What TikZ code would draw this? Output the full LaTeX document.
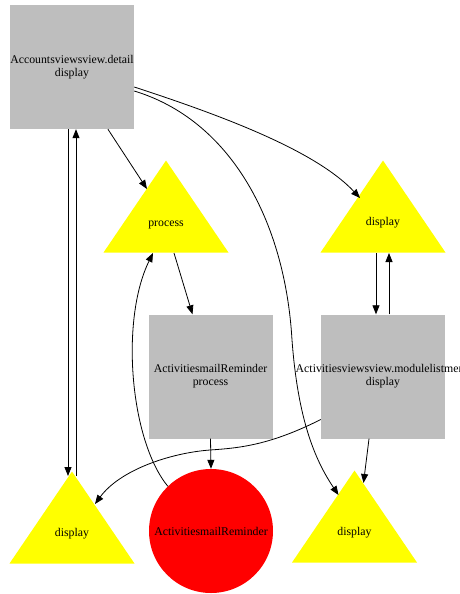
\documentclass[tikz,border=0pt]{standalone}
\usepackage{fontspec}
\setmainfont{Liberation Serif}
\usetikzlibrary{shapes.geometric,arrows.meta,calc}
\definecolor{boxgray}{RGB}{190,190,190}
\definecolor{triyellow}{RGB}{255,255,0}
\definecolor{dotred}{RGB}{255,0,0}
\newcommand{\trilabel}[1]{\raisebox{2.5pt}[0pt][0pt]{#1}}
\begin{document}
\begin{tikzpicture}[x=1pt,y=-1pt,
  every node/.style={font=\fontsize{11.8}{13}\selectfont, text=black},
  box/.style={rectangle, fill=boxgray, minimum width=124pt, minimum height=124pt,
    inner sep=0pt, align=center},
  tri/.style={isosceles triangle, isosceles triangle stretches, shape border rotate=90,
    minimum width=125pt, minimum height=92pt, inner sep=0pt, fill=triyellow, anchor=apex},
  dot/.style={circle, fill=dotred, minimum size=124pt, inner sep=0pt},
  link/.style={line width=0.8pt, -{Triangle[length=9pt,width=7pt]}}
]
\useasboundingbox (0,0) rectangle (460,594);

% nodes
\node[box] (A) at (72,67) {Accountsviewsview.detail\\display};
\node[tri] (P) at (166,160) {\trilabel{process}};
\node[tri] (D1) at (383,160) {\trilabel{display}};
\node[box] (B) at (210.5,376.5) {ActivitiesmailReminder\\process};
\node[box] (C) at (383,376.5) {\makebox[0pt]{Activitiesviewsview.modulelistmenu}\\display};
\node[tri] (D2) at (72,471) {\trilabel{display}};
\node[dot] (R) at (211,531) {ActivitiesmailReminder};
\node[tri] (D3) at (354.5,470) {\trilabel{display}};

% connectors
\draw[link] (A.-60) -- ($(P.apex)+(-19,29)$);
\draw[link] ($(A.east)+(0,20)$) .. controls (220,115) and (315,150) .. ($(D1.apex)+(-23,38)$);
\draw[link] ($(A.east)+(0,24)$) .. controls (230,120) and (285,220) .. (292,340)
  .. controls (298,420) and (315,460) .. ($(D3.apex)+(-16,25)$);
\draw[link] ($(A.south)+(-4,0)$) -- ($(D2.apex)+(-4,5)$);
\draw[link] ($(D2.apex)+(4,5)$) -- ($(A.south)+(4,0)$);
\draw[link] ($(P.apex)+(8,93)$) -- ($(B.north)+(-18,0)$);
\draw[link] (R.134) .. controls (130,440) and (120,320) .. ($(P.apex)+(-13,93)$);
\draw[link] ($(D1.apex)+(-7,93)$) -- ($(C.north)+(-7,0)$);
\draw[link] ($(C.north)+(6,0)$) -- ($(D1.apex)+(6,93)$);
\draw[link] (B.south) -- (R.north);
\draw[link] ($(C.west)+(0,43)$) .. controls (270,445) and (240,448) .. (210,450)
  .. controls (170,453) and (120,470) .. ($(D2.apex)+(23,33)$);
\draw[link] ($(C.south)+(-14,0)$) -- ($(D3.apex)+(9,13)$);
\end{tikzpicture}
\end{document}
